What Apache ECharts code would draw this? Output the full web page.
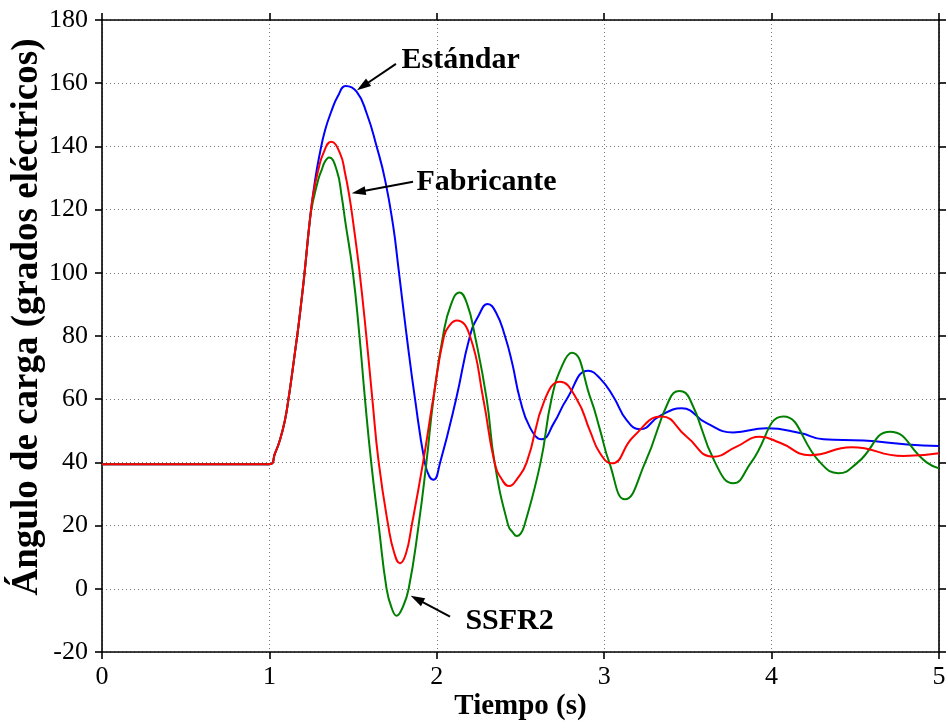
<!DOCTYPE html>
<html>
<head>
<meta charset="utf-8">
<script src="https://cdn.jsdelivr.net/npm/echarts@6/dist/echarts.min.js"></script>
<style>html,body{margin:0;padding:0;background:#fff}#c{width:948px;height:728px}</style>
</head>
<body>
<div id="c"></div>
<script>
const xTicks = [0, 1, 2, 3, 4, 5];
const yTicks = [-20, 0, 20, 40, 60, 80, 100, 120, 140, 160, 180];

// common initial part (identical for the three models)
const common = [[0,39.4],[1.0,39.4],[1.0335,42.9],[1.063,47.1],[1.093,53.4],[1.113,59.7],[1.133,67.1],[1.153,75],[1.173,82.9],[1.192,91.4],[1.21,100],[1.2425,117]];

const estandarTail = [[1.272,129],[1.302,138],[1.332,145],[1.368,150.8],[1.41,156],[1.456,159.1],[1.521,157.3],[1.581,150.5],[1.641,139.9],[1.691,129.4],[1.74,114.6],[1.77,101.9],[1.82,80],[1.87,60],[1.928,40],[1.955,35.6],[1.98,34.5],[2.02,40],[2.115,60],[2.198,80],[2.25,86.5],[2.304,90.1],[2.355,87.3],[2.407,80],[2.45,71.5],[2.497,60],[2.557,51],[2.627,47.3],[2.70,52.5],[2.776,60],[2.905,69],[2.975,66.6],[3.055,60.8],[3.134,53.4],[3.214,50.5],[3.333,54.7],[3.463,57.1],[3.612,52.4],[3.771,49.5],[3.97,50.8],[4.17,49.3],[4.31,47.3],[4.55,46.9],[4.81,45.7],[5,45.2]];

const fabricanteTail = [[1.262,125],[1.292,132.5],[1.322,137.8],[1.368,141.5],[1.422,137.8],[1.452,131.5],[1.478,124.1],[1.501,115.7],[1.538,100.5],[1.579,80],[1.615,60],[1.653,40],[1.71,20],[1.745,11.5],[1.78,8.1],[1.815,11],[1.85,20],[1.918,40],[1.978,60],[2.043,80],[2.08,83.6],[2.119,84.9],[2.198,80],[2.278,60],[2.345,40],[2.39,34.5],[2.433,32.5],[2.48,34.8],[2.537,40],[2.646,60],[2.736,65.5],[2.836,60],[2.915,50],[2.975,42.9],[3.045,39.7],[3.174,48.1],[3.343,54.5],[3.493,48.1],[3.652,41.8],[3.791,45],[3.93,48.1],[4.05,46.2],[4.23,42.3],[4.478,44.8],[4.787,42],[5,42.9]];

const ssfr2Tail = [[1.262,123],[1.292,129.5],[1.312,132.5],[1.332,135.2],[1.356,136.5],[1.402,132.5],[1.432,124.1],[1.452,116.7],[1.499,100],[1.538,80],[1.571,60],[1.608,40],[1.653,20],[1.70,0],[1.73,-6],[1.76,-8.5],[1.795,-6],[1.832,0],[1.891,20],[1.938,40],[1.98,60],[2.037,80],[2.085,90],[2.135,93.8],[2.18,90.3],[2.228,80],[2.298,60],[2.345,40],[2.427,20],[2.455,17.8],[2.477,16.7],[2.50,17.4],[2.523,20],[2.62,40],[2.685,60],[2.75,70.8],[2.806,74.7],[2.92,60],[2.975,50.3],[3.03,40],[3.124,28.3],[3.245,40],[3.39,60],[3.449,62.6],[3.512,60],[3.662,40],[3.771,33.4],[3.878,40],[4.07,54.5],[4.29,40],[4.398,36.6],[4.515,40],[4.707,49.7],[4.926,40],[5,38.1]];

const estandar = common.concat(estandarTail);
const fabricante = common.concat(fabricanteTail);
const ssfr2 = common.concat(ssfr2Tail);

// annotations: label, text anchor [t,v], arrow tail [t,v], arrow tip [t,v]
const annLabels = ['Estándar', 'Fabricante', 'SSFR2'];
const annText = [[1.786,167.3],[1.876,128.7],[2.168,-10.2]];
const annFrom = [[1.756,166.1],[1.858,128.8],[2.079,-8.8]];
const annTo = [[1.523,157.8],[1.492,125.2],[1.844,-2.2]];

const FONT = '"Liberation Serif", "Times New Roman", serif';
const chart = echarts.init(document.getElementById('c'), null, {renderer: 'canvas'});

const axisCommon = {
  type: 'value',
  axisLine: {show: true, onZero: false, lineStyle: {color: '#000', width: 1.6}},
  axisTick: {show: true, inside: false, length: 7, lineStyle: {color: '#000', width: 1.6}},
};

const lineSeries = (name, data, color, z) => ({
  name, type: 'line', data, showSymbol: false, smooth: 0.5,
  lineStyle: {color, width: 2}, itemStyle: {color}, z
});

const option = {
  backgroundColor: '#fff',
  animation: false,
  grid: {left: 102, top: 20, right: 9, bottom: 76, containLabel: false, outerBoundsMode: 'none'},
  xAxis: [
    Object.assign({}, axisCommon, {
      min: xTicks[0], max: xTicks[xTicks.length-1], interval: 1, position: 'bottom',
      name: 'Tiempo (s)', nameLocation: 'middle', nameGap: 40, nameMoveOverlap: false,
      nameTextStyle: {fontFamily: FONT, fontSize: 29, fontWeight: 'bold', color: '#000'},
      axisLabel: {show: true, margin: 12, fontFamily: FONT, fontSize: 26, color: '#000'},
      splitLine: {show: true, lineStyle: {color: '#777', type: [1, 3], width: 1}}
    }),
    Object.assign({}, axisCommon, {
      min: xTicks[0], max: xTicks[xTicks.length-1], interval: 1, position: 'top',
      axisLabel: {show: false}, splitLine: {show: false}
    })
  ],
  yAxis: [
    Object.assign({}, axisCommon, {
      min: yTicks[0], max: yTicks[yTicks.length-1], interval: 20, position: 'left',
      name: 'Ángulo de carga (grados eléctricos)', nameLocation: 'middle', nameGap: 56, nameRotate: 90,
      nameMoveOverlap: false,
      nameTextStyle: {fontFamily: FONT, fontSize: 37, fontWeight: 'bold', color: '#000', padding: [0, 0, 0, 38]},
      axisLabel: {show: true, margin: 14, fontFamily: FONT, fontSize: 26, color: '#000'},
      splitLine: {show: true, lineStyle: {color: '#777', type: [1, 3], width: 1}}
    }),
    Object.assign({}, axisCommon, {
      min: yTicks[0], max: yTicks[yTicks.length-1], interval: 20, position: 'right',
      axisLabel: {show: false}, splitLine: {show: false}
    })
  ],
  series: [
    lineSeries('Estándar', estandar, '#0000ff', 3),
    lineSeries('SSFR2', ssfr2, '#008000', 4),
    lineSeries('Fabricante', fabricante, '#ff0000', 5),
    {name: 'annotations', type: 'line', data: [], z: 6,
     markPoint: {
       silent: true, animation: false,
       symbol: 'circle', symbolSize: 1,
       itemStyle: {color: 'rgba(0,0,0,0)'},
       label: {show: true, position: 'right', distance: 0, formatter: p => p.name,
               fontFamily: FONT, fontSize: 30, fontWeight: 'bold', color: '#000'},
       data: annText.map((c, i) => ({name: annLabels[i], coord: c}))
     }
    }
  ]
};
chart.setOption(option);

// arrows, positioned through the chart's own coordinate system
const graphics = [];
annFrom.forEach((f, i) => {
  const p0 = chart.convertToPixel({xAxisIndex: 0, yAxisIndex: 0}, f);
  const p1 = chart.convertToPixel({xAxisIndex: 0, yAxisIndex: 0}, annTo[i]);
  const dx = p1[0] - p0[0], dy = p1[1] - p0[1];
  const L = Math.hypot(dx, dy), ux = dx / L, uy = dy / L;
  const hl = 14, hw = 4.5;
  const bx = p1[0] - ux * hl, by = p1[1] - uy * hl;
  graphics.push({type: 'line', silent: true, z: 100,
    shape: {x1: p0[0], y1: p0[1], x2: bx + ux * 2, y2: by + uy * 2},
    style: {stroke: '#000', lineWidth: 2}});
  graphics.push({type: 'polygon', silent: true, z: 100,
    shape: {points: [[p1[0], p1[1]], [bx - uy * hw, by + ux * hw], [bx + uy * hw, by - ux * hw]]},
    style: {fill: '#000'}});
});
chart.setOption({graphic: graphics});
</script>
</body>
</html>
